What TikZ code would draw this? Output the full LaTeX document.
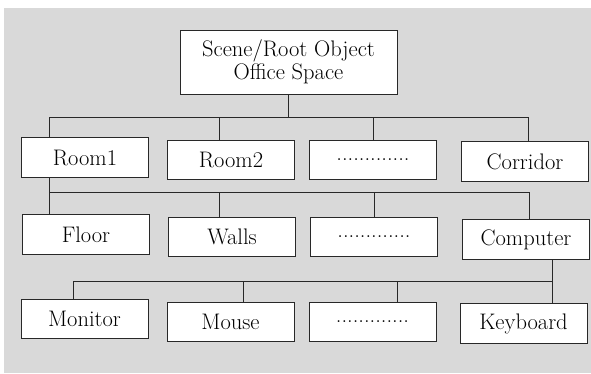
\documentclass[tikz,border=0pt]{standalone}
\usepackage{xcolor}
\usetikzlibrary{positioning}
\definecolor{panelgray}{RGB}{217,217,217}
\definecolor{edgegray}{RGB}{40,40,40}
\newcommand{\dotrun}{.............}

\begin{document}
\begin{tikzpicture}[x=1pt,y=-1pt,
        box/.style={rectangle,draw=edgegray,fill=white,line width=1pt,inner sep=0pt,
          minimum width=127pt,minimum height=39.5pt,align=center,
          font=\fontsize{22.5}{23.5}\selectfont},
        rootbox/.style={box,minimum width=217pt,minimum height=64pt},
        link/.style={draw=edgegray,line width=1pt}]
        \useasboundingbox (0,0) rectangle (591,373);
        \fill[panelgray] (4,8) rectangle (591,373);
        % root
        \node[rootbox] (root) at (288.5,62) {Scene/Root Object\\Office Space};
        % rooms
        \node[box] (room1) at (85,157.5) {Room1};
        \node[box,right=18pt of room1,yshift=-2.5pt] (room2) {Room2};
        \node[box,right=14pt of room2] (more1) {\dotrun};
        \node[box,right=24pt of more1,yshift=-1.5pt] (corridor) {Corridor};
        % contents of room1
        \node[box] (floor) at (86,234.5) {Floor};
        \node[box,right=18pt of floor,yshift=-2.5pt] (walls) {Walls};
        \node[box,right=14pt of walls] (more2) {\dotrun};
        \node[box,right=24pt of more2,yshift=-2.5pt] (computer) {Computer};
        % parts of computer
        \node[box] (monitor) at (84.5,319) {Monitor};
        \node[box,right=18pt of monitor,yshift=-3pt] (mouse) {Mouse};
        \node[box,right=14pt of mouse] (more3) {\dotrun};
        \node[box,right=23pt of more3,yshift=-1.5pt] (keyboard) {Keyboard};
        \coordinate (bus1) at (0,117);
        \coordinate (bus2) at (0,192);
        \coordinate (bus3) at (0,281);
        % level 1
        \draw[link] (root.south) -- (root.south |- bus1);
        \draw[link] ([xshift=-36pt]room1.north |- bus1) -- ([xshift=3.5pt]corridor.north |- bus1);
        \draw[link] ([xshift=-36pt]room1.north |- bus1) -- ([xshift=-36pt]room1.north);
        \draw[link] ([xshift=-11.5pt]room2.north |- bus1) -- ([xshift=-11.5pt]room2.north);
        \draw[link] (more1.north |- bus1) -- (more1.north);
        \draw[link] ([xshift=3.5pt]corridor.north |- bus1) -- ([xshift=3.5pt]corridor.north);
        % level 2
        \draw[link] ([xshift=-36pt]room1.south) -- ([xshift=-37pt]floor.north);
        \draw[link] ([xshift=-36pt]room1.south |- bus2) -- ([xshift=3pt]computer.north |- bus2);
        \draw[link] ([xshift=-12.5pt]walls.north |- bus2) -- ([xshift=-12.5pt]walls.north);
        \draw[link] (more2.north |- bus2) -- (more2.north);
        \draw[link] ([xshift=3pt]computer.north |- bus2) -- ([xshift=3pt]computer.north);
        % level 3
        \draw[link] ([xshift=26pt]computer.south) -- ([xshift=26pt]computer.south |- keyboard.north);
        \draw[link] ([xshift=-11.5pt]monitor.north |- bus3) -- ([xshift=26pt]computer.south |- bus3);
        \draw[link] ([xshift=-11.5pt]monitor.north |- bus3) -- ([xshift=-11.5pt]monitor.north);
        \draw[link] ([xshift=12.5pt]mouse.north |- bus3) -- ([xshift=12.5pt]mouse.north);
        \draw[link] ([xshift=24.5pt]more3.north |- bus3) -- ([xshift=24.5pt]more3.north);
      \end{tikzpicture}
\end{document}
